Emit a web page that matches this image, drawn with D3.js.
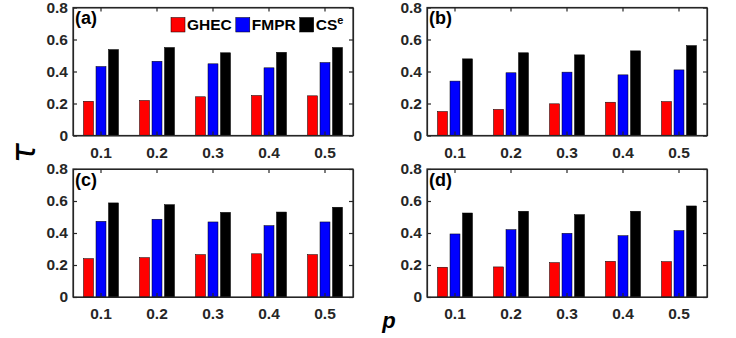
<!DOCTYPE html>
<html>
<head>
<meta charset="utf-8">
<script src="https://cdn.jsdelivr.net/npm/d3@7"></script>
<style>
  body { margin: 0; background: #fff; }
  svg { display: block; }
  .tick text { font-family: "Liberation Sans", Arial, sans-serif; font-weight: bold; font-size: 15.5px; fill: #262626; }
</style>
</head>
<body>
<div id="viz"></div>
<script>
const categories = ["0.1", "0.2", "0.3", "0.4", "0.5"];
const seriesNames = ["GHEC", "FMPR", "CS"];
const seriesColors = ["#ff0000", "#0000ff", "#000000"];
const yTicks = [0, 0.2, 0.4, 0.6, 0.8];
const panelLabels = ["(a)", "(b)", "(c)", "(d)"];

// values
const ghecA = [0.214, 0.219, 0.242, 0.250, 0.248];
const fmprA = [0.431, 0.464, 0.448, 0.423, 0.456];
const cseA  = [0.537, 0.550, 0.517, 0.520, 0.550];
const ghecB = [0.150, 0.163, 0.198, 0.208, 0.212];
const fmprB = [0.340, 0.392, 0.396, 0.379, 0.410];
const cseB  = [0.479, 0.517, 0.504, 0.529, 0.562];
const ghecC = [0.240, 0.246, 0.265, 0.270, 0.265];
const fmprC = [0.473, 0.486, 0.469, 0.446, 0.469];
const cseC  = [0.588, 0.577, 0.529, 0.531, 0.561];
const ghecD = [0.186, 0.188, 0.215, 0.223, 0.221];
const fmprD = [0.394, 0.421, 0.398, 0.383, 0.415];
const cseD  = [0.525, 0.536, 0.515, 0.536, 0.569];

const panels = [
    { label: panelLabels[0], x: 73,  y: 7.5, values: [ghecA, fmprA, cseA], legend: true },
    { label: panelLabels[1], x: 427, y: 7.5, values: [ghecB, fmprB, cseB] },
    { label: panelLabels[2], x: 73,  y: 169, values: [ghecC, fmprC, cseC] },
    { label: panelLabels[3], x: 427, y: 169, values: [ghecD, fmprD, cseD] }
];

const width = 736;
const height = 338;
const pw = 280;
const ph = 128;
const axisColor = "#262626";
const font = '"Liberation Sans", Arial, sans-serif';

const svg = d3.select('#viz')
              .append('svg')
              .attr('width', width)
              .attr('height', height);

const xScale = d3.scaleBand().domain(categories).range([0, pw]);
const x1 = d3.scaleBand().domain(d3.range(3)).range([9.25, 46.75]).paddingInner(0.2).paddingOuter(0.1);
const yScale = d3.scaleLinear().domain([0, 0.8]).range([ph, 0]);

panels.forEach(p => {
    const g = svg.append('g').attr('transform', 'translate(' + p.x + ',' + p.y + ')');

    // bars
    const rows = categories.map((c, i) => p.values.map((s, j) => ({ cat: c, s: j, v: s[i] })));
    g.selectAll('g.grp')
     .data(rows)
     .enter()
     .append('g')
     .attr('transform', d => 'translate(' + xScale(d[0].cat) + ',0)')
     .selectAll('rect')
     .data(d => d)
     .enter()
     .append('rect')
     .attr('x', d => x1(d.s))
     .attr('width', x1.bandwidth())
     .attr('y', d => yScale(d.v))
     .attr('height', d => ph - yScale(d.v))
     .attr('fill', d => seriesColors[d.s])
     .attr('stroke', '#000')
     .attr('stroke-width', 0.5);

    // axes
    const yAxis = d3.axisLeft(yScale).tickValues(yTicks).tickSizeInner(-4).tickSizeOuter(0).tickPadding(5)
                    .tickFormat(d => d === 0 ? '0' : d3.format('.1f')(d));
    const xAxis = d3.axisBottom(xScale).tickSizeInner(-4).tickSizeOuter(0).tickPadding(11);
    const yRight = d3.axisRight(yScale).tickValues(yTicks).tickSizeInner(-4).tickSizeOuter(0).tickFormat('');
    const xTop = d3.axisTop(xScale).tickSizeInner(-4).tickSizeOuter(0).tickFormat('');

    [g.append('g').call(yAxis),
     g.append('g').attr('transform', 'translate(0,' + ph + ')').call(xAxis),
     g.append('g').attr('transform', 'translate(' + pw + ',0)').call(yRight),
     g.append('g').call(xTop)].forEach(a => {
        a.selectAll('path, line').attr('stroke', axisColor).attr('stroke-width', 1.2);
    });

    g.append('rect')
     .attr('width', pw)
     .attr('height', ph)
     .attr('fill', 'none')
     .attr('stroke', axisColor)
     .attr('stroke-width', 1.2);

    g.append('text')
     .attr('x', 2)
     .attr('y', 16.5)
     .attr('font-family', font)
     .attr('font-weight', 'bold')
     .attr('font-size', '18px')
     .attr('fill', '#000')
     .text(p.label);

    if (p.legend) {
        const lg = g.append('g').attr('transform', 'translate(98,0)');
        let lx = 0;
        seriesNames.forEach((name, i) => {
            lg.append('rect')
              .attr('x', lx)
              .attr('y', 10)
              .attr('width', 14)
              .attr('height', 14.5)
              .attr('fill', seriesColors[i])
              .attr('stroke', '#000')
              .attr('stroke-width', 0.5);
            const t = lg.append('text')
                        .attr('x', lx + 16)
                        .attr('y', 22.5)
                        .attr('font-family', font)
                        .attr('font-weight', 'bold')
                        .attr('font-size', '15.5px')
                        .attr('fill', '#000')
                        .text(name);
            if (i === 2) {
                t.append('tspan').attr('dy', -6).attr('font-size', '11px').text('e');
            }
            lx += 16 + t.node().getComputedTextLength() + 4;
        });
    }
});

// axis titles
svg.append('text')
   .attr('x', 389)
   .attr('y', 328)
   .attr('text-anchor', 'middle')
   .attr('font-family', font)
   .attr('font-weight', 'bold')
   .attr('font-style', 'italic')
   .attr('font-size', '22px')
   .attr('fill', '#000')
   .text('p');

svg.append('text')
   .attr('transform', 'translate(35,153) rotate(-90)')
   .attr('text-anchor', 'middle')
   .attr('font-family', '"DejaVu Sans", sans-serif')
   .attr('font-style', 'italic')
   .attr('font-size', '33px')
   .attr('fill', '#000')
   .text('\u03C4');
</script>
</body>
</html>
